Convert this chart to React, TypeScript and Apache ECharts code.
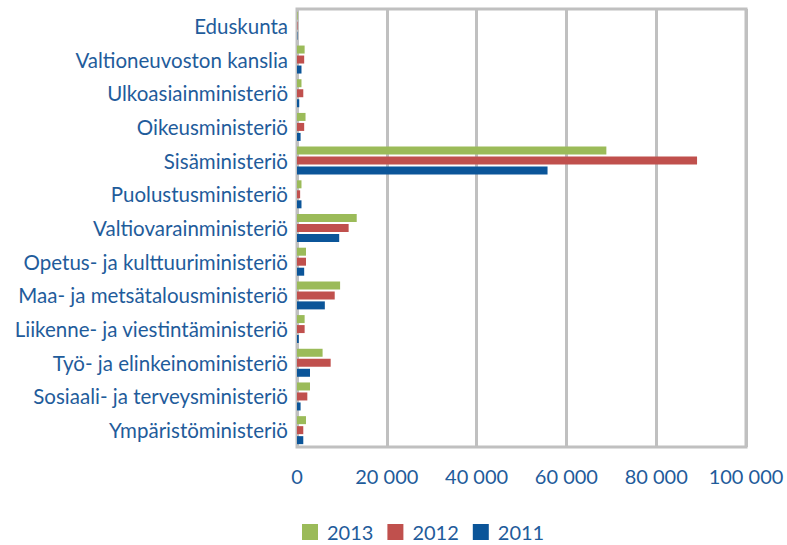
import React, { useEffect, useRef } from "react";
import * as echarts from "echarts";

const categories = [
  "Eduskunta",
  "Valtioneuvoston kanslia",
  "Ulkoasiainministeriö",
  "Oikeusministeriö",
  "Sisäministeriö",
  "Puolustusministeriö",
  "Valtiovarainministeriö",
  "Opetus- ja kulttuuriministeriö",
  "Maa- ja metsätalousministeriö",
  "Liikenne- ja viestintäministeriö",
  "Työ- ja elinkeinoministeriö",
  "Sosiaali- ja terveysministeriö",
  "Ympäristöministeriö",
];

const values2013 = [150, 1700, 1000, 1900, 68900, 1000, 13300, 2000, 9600, 1700, 5700, 2900, 2000];
const values2012 = [120, 1600, 1400, 1600, 89100, 700, 11500, 2000, 8400, 1700, 7500, 2300, 1400];
const values2011 = [100, 1000, 500, 800, 55800, 1000, 9400, 1600, 6200, 400, 2900, 800, 1400];

const seriesNames = ["2013", "2012", "2011"];
const seriesColors = ["#9bbb59", "#c0504d", "#0b5599"];

const TEXT_COLOR = "#1f5c9b";
const FONT = "Lato, 'Open Sans', sans-serif";

export default function App() {
  const ref = useRef<HTMLDivElement>(null);

  useEffect(() => {
    if (!ref.current) return;
    const chart = echarts.init(ref.current, undefined, { renderer: "svg" });
    const data = [values2013, values2012, values2011];
    chart.setOption({
      animation: false,
      backgroundColor: "#ffffff",
      textStyle: { fontFamily: FONT },
      grid: {
        left: 297,
        right: 41,
        top: 9,
        bottom: 98,
        show: true,
        borderColor: "#c0c0c0",
        borderWidth: 3,
        containLabel: false,
      },
      legend: {
        left: 297,
        top: 517,
        itemWidth: 16,
        itemHeight: 16,
        itemGap: 14,
        icon: "rect",
        data: seriesNames,
        textStyle: { color: TEXT_COLOR, fontSize: 20, fontFamily: FONT, padding: [0, 0, 0, 4] },
      },
      xAxis: {
        type: "value",
        min: 0,
        max: 100000,
        interval: 20000,
        axisLine: { show: false },
        axisTick: { show: false },
        splitLine: { show: true, lineStyle: { color: "#c0c0c0", width: 3 } },
        axisLabel: {
          color: TEXT_COLOR,
          fontSize: 20,
          fontFamily: FONT,
          margin: 19,
          formatter: (v: number) => String(v).replace(/\B(?=(\d{3})+(?!\d))/g, " "),
        },
      },
      yAxis: {
        type: "category",
        data: categories,
        inverse: true,
        axisLine: { show: false },
        axisTick: { show: false },
        splitLine: { show: false },
        axisLabel: {
          color: TEXT_COLOR,
          fontSize: 20.5,
          fontFamily: FONT,
          margin: 9,
          padding: [0, 0, 5, 0],
        },
      },
      series: seriesNames.map((name, i) => ({
        name,
        type: "bar",
        data: data[i],
        barWidth: 8,
        barGap: "25%",
        itemStyle: { color: seriesColors[i] },
      })),
    });
    return () => chart.dispose();
  }, []);

  return <div ref={ref} style={{ width: 787, height: 545, position: "absolute", left: 0, top: 0 }} />;
}
